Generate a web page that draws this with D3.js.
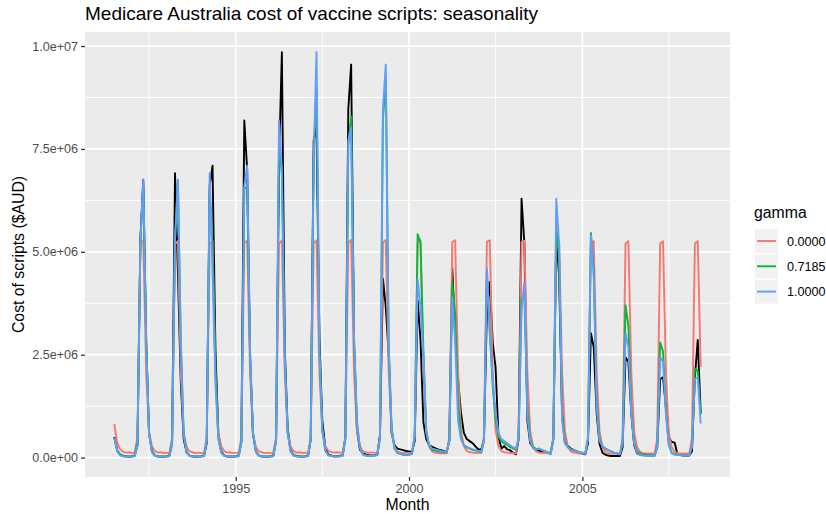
<!DOCTYPE html>
<html>
<head>
<meta charset="utf-8">
<script src="https://cdn.jsdelivr.net/npm/d3@7"></script>
<style>
  body { margin: 0; background: #fff; }
  svg { display: block; font-family: "Liberation Sans", Arial, sans-serif; }
</style>
</head>
<body>
<div id="chart"></div>
<script>
// Months run Jul 1991 .. Jun 2008 (204 monthly observations)
var firstMonth = new Date(1991, 6, 1);
var nMonths = 204;

var gammaLabels = ["0.0000", "0.7185", "1.0000"];
var gammaColors = ["#F8766D", "#00BA38", "#619CFF"];
var yTicks = [0, 2.5, 5, 7.5, 10];          // millions
var yMinor = [1.25, 3.75, 6.25, 8.75];
var xTickYears = [1995, 2000, 2005];
var xMinorYears = [1992.5, 1997.5, 2002.5, 2007.5];

// Cost of scripts, millions of AUD. One row per calendar year (first row Jul-Dec 1991, last row Jan-Jun 2008)
var actual = [
  0.50, 0.17, 0.07, 0.04, 0.03, 0.02,
  0.03, 0.05, 0.30, 5.30, 6.75, 2.80, 0.60, 0.15, 0.05, 0.03, 0.02, 0.02,
  0.03, 0.05, 0.40, 6.91, 4.50, 1.80, 0.45, 0.12, 0.05, 0.03, 0.02, 0.02,
  0.03, 0.05, 0.35, 6.60, 7.09, 2.60, 0.60, 0.15, 0.05, 0.03, 0.02, 0.02,
  0.03, 0.05, 0.40, 8.19, 7.00, 2.40, 0.60, 0.15, 0.05, 0.03, 0.02, 0.02,
  0.03, 0.05, 0.45, 7.20, 9.85, 2.60, 0.70, 0.18, 0.06, 0.04, 0.03, 0.02,
  0.03, 0.05, 0.45, 7.70, 8.02, 2.90, 0.90, 0.25, 0.08, 0.05, 0.03, 0.03,
  0.04, 0.06, 0.50, 8.46, 9.55, 2.70, 0.70, 0.20, 0.10, 0.08, 0.06, 0.05,
  0.06, 0.08, 0.55, 4.35, 3.66, 2.50, 0.60, 0.30, 0.22, 0.20, 0.18, 0.16,
  0.15, 0.14, 0.40, 3.82, 2.85, 0.85, 0.45, 0.30, 0.26, 0.23, 0.20, 0.18,
  0.16, 0.14, 0.40, 4.60, 3.00, 1.90, 1.10, 0.60, 0.45, 0.40, 0.35, 0.27,
  0.20, 0.20, 0.45, 3.60, 4.27, 2.80, 2.20, 0.50, 0.22, 0.28, 0.20, 0.18,
  0.12, 0.08, 0.45, 6.29, 5.20, 0.90, 0.35, 0.25, 0.20, 0.17, 0.15, 0.12,
  0.12, 0.10, 0.45, 5.40, 4.40, 1.10, 0.35, 0.28, 0.22, 0.18, 0.15, 0.12,
  0.10, 0.08, 0.35, 3.02, 2.68, 1.06, 0.33, 0.12, 0.07, 0.05, 0.04, 0.04,
  0.04, 0.04, 0.25, 2.44, 2.33, 1.06, 0.30, 0.10, 0.07, 0.06, 0.06, 0.05,
  0.05, 0.05, 0.25, 1.91, 1.95, 1.22, 0.49, 0.38, 0.36, 0.07, 0.06, 0.05,
  0.05, 0.05, 0.15, 1.95, 2.86, 1.07
];

// fitted values, gamma = 0
var fitGamma0 = [
  0.82, 0.36, 0.20, 0.14, 0.12, 0.13,
  0.11, 0.12, 0.50, 5.20, 5.27, 2.05, 0.62, 0.27, 0.16, 0.12, 0.13, 0.11,
  0.12, 0.10, 0.48, 5.19, 5.26, 2.03, 0.60, 0.26, 0.15, 0.13, 0.11, 0.12,
  0.11, 0.12, 0.49, 5.20, 5.27, 2.04, 0.61, 0.27, 0.16, 0.12, 0.13, 0.11,
  0.12, 0.10, 0.48, 5.21, 5.27, 2.05, 0.60, 0.26, 0.15, 0.13, 0.11, 0.12,
  0.11, 0.12, 0.50, 5.20, 5.28, 2.04, 0.62, 0.27, 0.16, 0.12, 0.13, 0.11,
  0.12, 0.11, 0.49, 5.21, 5.28, 2.06, 0.63, 0.28, 0.17, 0.14, 0.12, 0.13,
  0.12, 0.12, 0.50, 5.22, 5.29, 2.06, 0.63, 0.28, 0.16, 0.13, 0.12, 0.12,
  0.12, 0.11, 0.50, 5.23, 5.29, 2.08, 0.64, 0.27, 0.15, 0.12, 0.11, 0.12,
  0.11, 0.10, 0.50, 5.24, 5.28, 2.08, 0.64, 0.27, 0.15, 0.12, 0.11, 0.10,
  0.11, 0.10, 0.50, 5.24, 5.28, 2.10, 0.66, 0.28, 0.16, 0.13, 0.12, 0.11,
  0.12, 0.11, 0.51, 5.25, 5.28, 2.10, 0.66, 0.28, 0.16, 0.13, 0.12, 0.11,
  0.11, 0.10, 0.50, 5.24, 5.27, 2.08, 0.65, 0.27, 0.15, 0.12, 0.11, 0.11,
  0.11, 0.10, 0.50, 5.23, 5.27, 2.08, 0.64, 0.27, 0.15, 0.12, 0.11, 0.10,
  0.10, 0.10, 0.49, 5.22, 5.26, 2.06, 0.63, 0.26, 0.14, 0.11, 0.10, 0.10,
  0.10, 0.09, 0.47, 5.20, 5.26, 2.05, 0.62, 0.25, 0.14, 0.11, 0.10, 0.10,
  0.10, 0.09, 0.46, 5.20, 5.26, 2.05, 0.62, 0.25, 0.14, 0.11, 0.10, 0.10,
  0.10, 0.09, 0.46, 5.20, 5.26, 2.20
];

// fitted values, gamma = 0.7185
var fitGamma07185 = [
  0.48, 0.17, 0.07, 0.04, 0.03, 0.03,
  0.03, 0.05, 0.40, 5.33, 6.60, 2.80, 0.58, 0.14, 0.05, 0.03, 0.03, 0.03,
  0.03, 0.05, 0.38, 5.31, 6.71, 2.80, 0.55, 0.14, 0.05, 0.03, 0.03, 0.03,
  0.03, 0.05, 0.40, 6.47, 5.12, 2.10, 0.48, 0.13, 0.05, 0.03, 0.03, 0.03,
  0.03, 0.05, 0.38, 6.56, 6.54, 2.48, 0.57, 0.14, 0.05, 0.03, 0.03, 0.03,
  0.03, 0.05, 0.40, 7.74, 6.87, 2.42, 0.59, 0.15, 0.05, 0.03, 0.03, 0.03,
  0.03, 0.05, 0.44, 7.35, 9.01, 2.55, 0.67, 0.17, 0.06, 0.04, 0.03, 0.03,
  0.03, 0.05, 0.45, 7.60, 8.29, 2.80, 0.84, 0.23, 0.08, 0.05, 0.04, 0.04,
  0.05, 0.06, 0.49, 8.22, 9.20, 2.72, 0.74, 0.22, 0.11, 0.09, 0.07, 0.06,
  0.07, 0.09, 0.53, 5.43, 5.22, 2.56, 0.64, 0.28, 0.19, 0.17, 0.15, 0.14,
  0.13, 0.13, 0.44, 4.27, 3.51, 1.32, 0.50, 0.30, 0.25, 0.22, 0.19, 0.17,
  0.15, 0.14, 0.41, 4.51, 3.14, 1.74, 0.93, 0.51, 0.39, 0.35, 0.31, 0.26,
  0.22, 0.20, 0.44, 3.85, 3.95, 1.20, 0.45, 0.25, 0.20, 0.22, 0.18, 0.16,
  0.13, 0.10, 0.45, 5.61, 4.85, 1.10, 0.40, 0.25, 0.20, 0.18, 0.16, 0.13,
  0.12, 0.10, 0.45, 5.46, 4.53, 1.35, 0.45, 0.27, 0.22, 0.18, 0.15, 0.12,
  0.10, 0.08, 0.38, 3.70, 3.20, 1.15, 0.37, 0.16, 0.10, 0.08, 0.07, 0.06,
  0.05, 0.05, 0.28, 2.80, 2.58, 1.08, 0.32, 0.12, 0.08, 0.07, 0.06, 0.05,
  0.05, 0.05, 0.27, 2.16, 2.12, 1.05
];

// fitted values, gamma = 1
var fitGamma1 = [
  0.48, 0.15, 0.05, 0.03, 0.02, 0.02,
  0.02, 0.03, 0.30, 5.20, 6.75, 2.85, 0.55, 0.12, 0.04, 0.02, 0.02, 0.02,
  0.02, 0.03, 0.30, 5.30, 6.75, 2.80, 0.55, 0.13, 0.04, 0.02, 0.02, 0.02,
  0.02, 0.03, 0.40, 6.91, 4.50, 1.80, 0.45, 0.12, 0.04, 0.02, 0.02, 0.02,
  0.02, 0.03, 0.35, 6.60, 7.09, 2.60, 0.60, 0.15, 0.04, 0.02, 0.02, 0.02,
  0.02, 0.03, 0.40, 8.19, 7.00, 2.40, 0.60, 0.15, 0.05, 0.03, 0.02, 0.02,
  0.02, 0.03, 0.45, 7.20, 9.85, 2.60, 0.70, 0.18, 0.06, 0.04, 0.03, 0.02,
  0.03, 0.04, 0.45, 7.70, 8.02, 2.90, 0.90, 0.25, 0.08, 0.05, 0.04, 0.04,
  0.05, 0.06, 0.50, 8.46, 9.55, 2.70, 0.70, 0.22, 0.12, 0.10, 0.08, 0.07,
  0.08, 0.10, 0.55, 4.33, 3.66, 2.50, 0.60, 0.30, 0.22, 0.20, 0.18, 0.16,
  0.15, 0.14, 0.40, 3.90, 2.85, 0.90, 0.45, 0.30, 0.26, 0.23, 0.20, 0.18,
  0.16, 0.14, 0.40, 4.60, 3.00, 1.90, 1.10, 0.60, 0.45, 0.40, 0.35, 0.30,
  0.25, 0.22, 0.45, 3.60, 4.27, 1.00, 0.40, 0.22, 0.20, 0.22, 0.18, 0.16,
  0.12, 0.08, 0.45, 6.29, 5.20, 0.90, 0.35, 0.25, 0.20, 0.17, 0.15, 0.12,
  0.12, 0.10, 0.45, 5.40, 4.40, 1.20, 0.40, 0.28, 0.22, 0.18, 0.15, 0.12,
  0.10, 0.08, 0.35, 3.02, 2.68, 1.06, 0.33, 0.12, 0.07, 0.05, 0.04, 0.04,
  0.04, 0.04, 0.25, 2.44, 2.33, 1.06, 0.30, 0.10, 0.07, 0.06, 0.06, 0.05,
  0.05, 0.05, 0.25, 1.91, 1.95, 0.83
];

var fits = [fitGamma0, fitGamma07185, fitGamma1];

var months = d3.range(nMonths).map(function(i) { return d3.timeMonth.offset(firstMonth, i); });

var width = 826, height = 514;
var margin = { top: 32, right: 96, bottom: 37, left: 85 };
var pw = width - margin.left - margin.right;
var ph = height - margin.top - margin.bottom;

var svg = d3.select("#chart").append("svg")
    .attr("width", width)
    .attr("height", height);

// ggplot-style 5% expansion
var t0 = +months[0], t1 = +months[nMonths - 1];
var tPad = (t1 - t0) * 0.05;
var x = d3.scaleTime()
    .domain([new Date(t0 - tPad), new Date(t1 + tPad)])
    .range([margin.left, margin.left + pw]);

var allVals = actual.concat(fitGamma0, fitGamma07185, fitGamma1);
var yLo = d3.min(allVals), yHi = d3.max(allVals);
var yPad = (yHi - yLo) * 0.05;
var y = d3.scaleLinear()
    .domain([yLo - yPad, yHi + yPad])
    .range([margin.top + ph, margin.top]);

function yearDate(v) {
    var yr = Math.floor(v);
    return new Date(yr, Math.round((v - yr) * 12), 1);
}

// panel
svg.append("rect")
    .attr("x", margin.left).attr("y", margin.top)
    .attr("width", pw).attr("height", ph)
    .attr("fill", "#EBEBEB");

var grid = svg.append("g");
grid.selectAll(".ymin").data(yMinor).enter().append("line")
    .attr("x1", margin.left).attr("x2", margin.left + pw)
    .attr("y1", function(d) { return y(d); }).attr("y2", function(d) { return y(d); })
    .attr("stroke", "#fff").attr("stroke-width", 0.9);
grid.selectAll(".xmin").data(xMinorYears).enter().append("line")
    .attr("y1", margin.top).attr("y2", margin.top + ph)
    .attr("x1", function(d) { return x(yearDate(d)); }).attr("x2", function(d) { return x(yearDate(d)); })
    .attr("stroke", "#fff").attr("stroke-width", 0.9);
grid.selectAll(".ymaj").data(yTicks).enter().append("line")
    .attr("x1", margin.left).attr("x2", margin.left + pw)
    .attr("y1", function(d) { return y(d); }).attr("y2", function(d) { return y(d); })
    .attr("stroke", "#fff").attr("stroke-width", 1.8);
grid.selectAll(".xmaj").data(xTickYears).enter().append("line")
    .attr("y1", margin.top).attr("y2", margin.top + ph)
    .attr("x1", function(d) { return x(new Date(d, 0, 1)); }).attr("x2", function(d) { return x(new Date(d, 0, 1)); })
    .attr("stroke", "#fff").attr("stroke-width", 1.8);

// lines: data first, then fits
var line = d3.line()
    .x(function(d, i) { return x(months[i]); })
    .y(function(d) { return y(d); });

svg.append("path")
    .attr("d", line(actual))
    .attr("fill", "none")
    .attr("stroke", "#000")
    .attr("stroke-width", 1.9)
    .attr("stroke-linejoin", "round");

fits.forEach(function(f, k) {
    svg.append("path")
        .attr("d", line(f))
        .attr("fill", "none")
        .attr("stroke", gammaColors[k])
        .attr("stroke-width", 1.9)
        .attr("stroke-linejoin", "round");
});

// axes
function sci(v) {
    var s = d3.format(".1e")(v * 1e6);          // e.g. 2.5e+6
    return s.replace(/e([+-])(\d)$/, "e$10$2");
}

var yAxis = svg.append("g")
    .attr("transform", "translate(" + margin.left + ",0)")
    .call(d3.axisLeft(y).tickValues(yTicks).tickSize(3.9).tickPadding(3).tickFormat(sci));
var xAxis = svg.append("g")
    .attr("transform", "translate(0," + (margin.top + ph) + ")")
    .call(d3.axisBottom(x).tickValues(xTickYears.map(function(d) { return new Date(d, 0, 1); }))
        .tickSize(3.9).tickPadding(3).tickFormat(d3.timeFormat("%Y")));

[yAxis, xAxis].forEach(function(a) {
    a.select(".domain").remove();
    a.selectAll(".tick line").attr("stroke", "#333").attr("stroke-width", 1.3);
    a.selectAll(".tick text")
        .attr("fill", "#4D4D4D")
        .style("font-size", "12.6px")
        .style("font-family", "'Liberation Sans', Arial, sans-serif");
});

// titles
svg.append("text")
    .attr("x", margin.left).attr("y", 20)
    .attr("font-size", "19px")
    .text("Medicare Australia cost of vaccine scripts: seasonality");

svg.append("text")
    .attr("x", margin.left + pw / 2).attr("y", 510)
    .attr("text-anchor", "middle")
    .attr("font-size", "15.8px")
    .text("Month");

svg.append("text")
    .attr("transform", "translate(24," + (margin.top + ph / 2) + ") rotate(-90)")
    .attr("text-anchor", "middle")
    .attr("font-size", "15.8px")
    .text("Cost of scripts ($AUD)");

// legend
var lg = svg.append("g").attr("transform", "translate(754,0)");
lg.append("text")
    .attr("x", 0).attr("y", 218)
    .attr("font-size", "15.8px")
    .text("gamma");

var rows = lg.selectAll(".row").data(gammaLabels).enter().append("g")
    .attr("transform", function(d, i) { return "translate(0," + (229 + i * 25.3) + ")"; });
rows.append("rect")
    .attr("x", 1).attr("y", 0).attr("width", 23).attr("height", 24)
    .attr("fill", "#F2F2F2");
rows.append("line")
    .attr("x1", 3).attr("x2", 22).attr("y1", 12).attr("y2", 12)
    .attr("stroke", function(d, i) { return gammaColors[i]; })
    .attr("stroke-width", 1.9);
rows.append("text")
    .attr("x", 33).attr("y", 16.5)
    .attr("font-size", "12.6px")
    .text(function(d) { return d; });
</script>
</body>
</html>
